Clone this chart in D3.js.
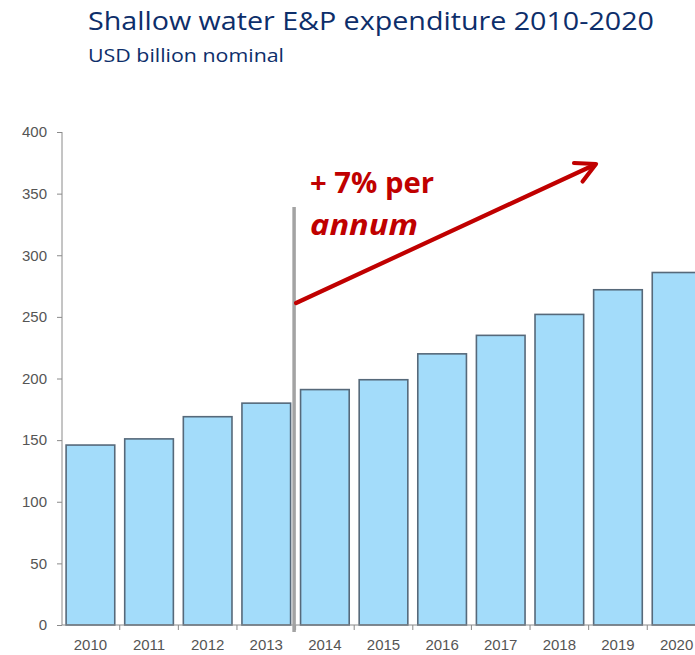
<!DOCTYPE html>
<html>
<head>
<meta charset="utf-8">
<script src="https://cdn.jsdelivr.net/npm/d3@7"></script>
<style>
  html, body { margin: 0; padding: 0; background: #fff; }
  svg { display: block; }
</style>
</head>
<body>
<svg id="chart" width="695" height="655"></svg>
<script>
// Shallow water E&P spend by year, USD billion nominal
const years = ["2010", "2011", "2012", "2013", "2014", "2015", "2016", "2017", "2018", "2019", "2020"];
const spend = [146, 151, 169, 180, 191, 199, 220, 235, 252, 272, 286];
const yTicks = [0, 50, 100, 150, 200, 250, 300, 350, 400];
const titleText = "Shallow water E&P expenditure 2010-2020";
const subtitleText = "USD billion nominal";
const growthLines = ["+ 7% per", "annum"];
const splitYear = "2013";

const svg = d3.select("#chart");

const x = d3.scaleBand().domain(years).range([62, 705]).paddingInner(0.17).paddingOuter(0.07);
const y = d3.scaleLinear().domain([0, 400]).range([625, 132]);

// Title block
svg.append("text")
  .attr("x", 88).attr("y", 30)
  .attr("font-family", "'Open Sans', 'Noto Sans', sans-serif")
  .attr("font-size", 25).attr("fill", "#0d2e6a")
  .attr("textLength", 566).attr("lengthAdjust", "spacingAndGlyphs")
  .text(titleText);
svg.append("text")
  .attr("x", 88).attr("y", 62)
  .attr("font-family", "'Open Sans', 'Noto Sans', sans-serif")
  .attr("font-size", 18).attr("fill", "#0d2e6a")
  .attr("textLength", 196).attr("lengthAdjust", "spacingAndGlyphs")
  .text(subtitleText);

// Bars
svg.append("g").selectAll("rect")
  .data(years.map((yr, i) => ({ yr, v: spend[i] })))
  .join("rect")
  .attr("x", d => x(d.yr))
  .attr("y", d => y(d.v))
  .attr("width", x.bandwidth())
  .attr("height", d => y(0) - y(d.v))
  .attr("fill", "#a3dcfa")
  .attr("stroke", "#56697a")
  .attr("stroke-width", 1.6);

// Y axis
const yAxis = d3.axisLeft(y).tickValues(yTicks).tickSize(5).tickPadding(10);
const gy = svg.append("g").attr("transform", "translate(62,0)").call(yAxis);
gy.select(".domain").attr("stroke", "#8a8a8a").attr("d", `M0,${y(400)}V${y(0)}`);
gy.selectAll(".tick line").attr("stroke", "#8a8a8a");
gy.selectAll(".tick text")
  .attr("font-family", "'Liberation Sans', Arial, sans-serif")
  .attr("font-size", 15).attr("fill", "#555");

// X axis: ticks at band boundaries
const step = x.step();
const gap = step - x.bandwidth();
const gx = svg.append("g").attr("transform", `translate(0,${y(0)})`);
gx.append("line").attr("x1", 62).attr("x2", 695).attr("y1", 0).attr("y2", 0).attr("stroke", "#8a8a8a");
gx.selectAll("line.b")
  .data(years.slice(1))
  .join("line").attr("class", "b")
  .attr("x1", d => x(d) - gap / 2)
  .attr("x2", d => x(d) - gap / 2)
  .attr("y1", 0).attr("y2", 5)
  .attr("stroke", "#8a8a8a");
gx.selectAll("text")
  .data(years)
  .join("text")
  .attr("x", d => x(d) + x.bandwidth() / 2)
  .attr("y", 25)
  .attr("text-anchor", "middle")
  .attr("font-family", "'Liberation Sans', Arial, sans-serif")
  .attr("font-size", 15).attr("fill", "#555")
  .text(d => d);

// Divider after the split year
const splitX = x(splitYear) + x.bandwidth() + 3.5;
svg.append("line")
  .attr("x1", splitX).attr("x2", splitX)
  .attr("y1", 207).attr("y2", y(0) + 7)
  .attr("stroke", "#a3a3a3").attr("stroke-width", 3.5);

// Growth arrow
const ax0 = splitX + 2, ay0 = 303, ax1 = 596, ay1 = 164;
svg.append("line")
  .attr("x1", ax0).attr("y1", ay0).attr("x2", ax1 - 3).attr("y2", ay1 + 1.5)
  .attr("stroke", "#c00000").attr("stroke-width", 4.2).attr("stroke-linecap", "round");
const ang = Math.atan2(ay1 - ay0, ax1 - ax0);
const hl = 22, ha = 0.48;
svg.append("path")
  .attr("d", `M${ax1 - hl * Math.cos(ang - ha)},${ay1 - hl * Math.sin(ang - ha)}L${ax1},${ay1}L${ax1 - hl * Math.cos(ang + ha)},${ay1 - hl * Math.sin(ang + ha)}`)
  .attr("fill", "none").attr("stroke", "#c00000").attr("stroke-width", 4.2)
  .attr("stroke-linecap", "round").attr("stroke-linejoin", "round");

// Growth label
svg.append("text")
  .attr("x", 310).attr("y", 193)
  .attr("font-family", "'Open Sans', 'Noto Sans', sans-serif")
  .attr("font-weight", "bold").attr("font-size", 28).attr("fill", "#c00000")
  .attr("textLength", 124).attr("lengthAdjust", "spacingAndGlyphs")
  .text(growthLines[0]);
svg.append("text")
  .attr("x", 310).attr("y", 235)
  .attr("font-family", "'Open Sans', 'Noto Sans', sans-serif")
  .attr("font-weight", "bold").attr("font-style", "italic")
  .attr("font-size", 28).attr("fill", "#c00000")
  .attr("textLength", 108).attr("lengthAdjust", "spacingAndGlyphs")
  .text(growthLines[1]);
</script>
</body>
</html>
